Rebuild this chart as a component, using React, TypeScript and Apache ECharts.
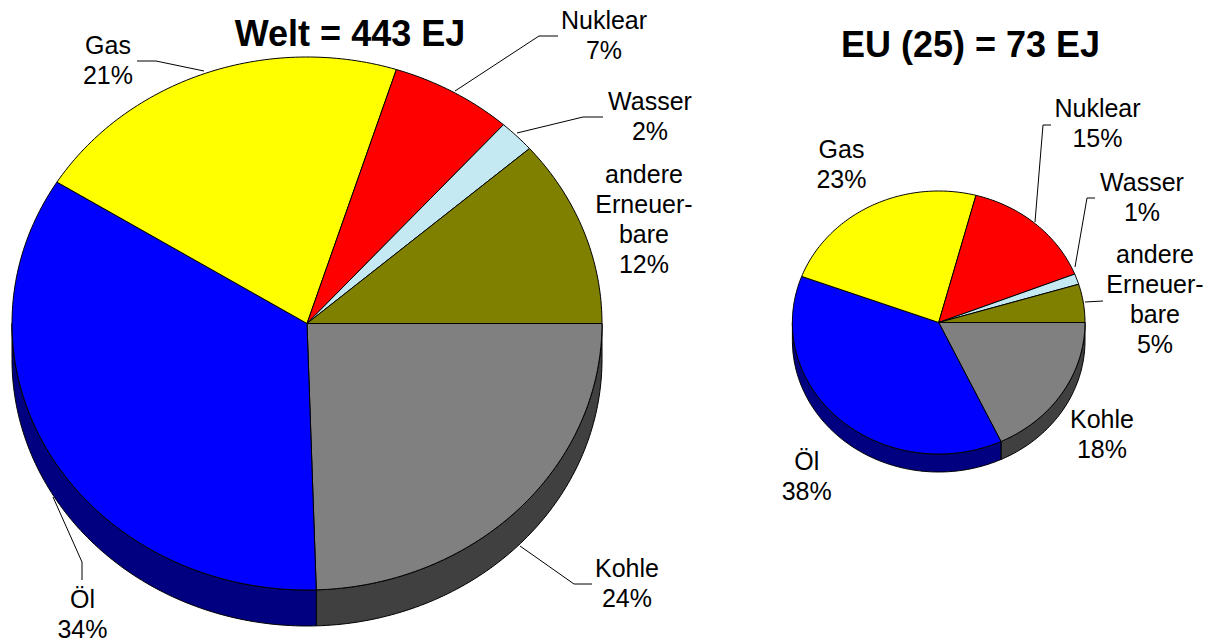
import React, { useEffect, useRef } from "react";
import * as echarts from "echarts";

// ---- data ----
const categories = ["Kohle", "Öl", "Gas", "Nuklear", "Wasser", "andere Erneuerbare"];
const labelNames = ["Kohle", "Öl", "Gas", "Nuklear", "Wasser", "andere\nErneuer-\nbare"];
// slice shares (%)
const weltShares = [24.5, 34.4, 21.0, 6.7, 2.0, 11.4];
const euShares = [18.0, 37.7, 23.4, 14.9, 1.3, 4.7];
// percentages as printed on the labels
const weltPercentLabels = [24, 34, 21, 7, 2, 12];
const euPercentLabels = [18, 38, 23, 15, 1, 5];
const weltTotal = 443;
const euTotal = 73;
const weltTitle = `Welt = ${weltTotal} EJ`;
const euTitle = `EU (25) = ${euTotal} EJ`;

// ---- styles ----
const topColors = ["#808080", "#0000ff", "#ffff00", "#ff0000", "#c4e9f3", "#808000"];
const sideColors = ["#404040", "#000080", "#808000", "#800000", "#62a0b0", "#404000"];
const FONT = '"Liberation Sans", Arial, Helvetica, sans-serif';

// ---- layout ----
const weltGeo = { cx: 307, cy: 323.5, rx: 295, ry: 266.5, depth: 36 };
const euGeo = { cx: 938.7, cy: 322.5, rx: 146.3, ry: 131.5, depth: 18 };

type LabelLayout = { x: number; y: number; leader?: number[][] };
const weltLabels: LabelLayout[] = [
  { x: 627, y: 577, leader: [[592, 584], [574, 584], [520, 546]] },
  { x: 82.5, y: 608, leader: [[82, 580], [82, 562], [53, 497]] },
  { x: 108, y: 54, leader: [[137, 61], [156, 61], [204, 71]] },
  { x: 604, y: 29, leader: [[558, 36], [539, 36], [455, 91]] },
  { x: 650, y: 110, leader: [[603, 117], [583, 117], [517, 133]] },
  { x: 644, y: 183 },
];
const euLabels: LabelLayout[] = [
  { x: 1102, y: 428 },
  { x: 806.7, y: 470 },
  { x: 841.5, y: 158 },
  { x: 1097.5, y: 117, leader: [[1051, 125], [1043, 125], [1035, 222]] },
  { x: 1142, y: 191, leader: [[1095, 198], [1087, 198], [1075, 267]] },
  { x: 1155, y: 263, leader: [[1103, 301], [1085, 302]] },
];

function makeSeries(shares: number[], geo: typeof weltGeo) {
  const cum: number[] = [];
  let s = 0;
  shares.forEach((v) => {
    cum.push(s);
    s += v;
  });
  const total = s;
  return {
    type: "custom",
    coordinateSystem: "none",
    silent: true,
    data: shares.map((v, i) => ({ name: categories[i], value: [v, cum[i]] })),
    renderItem: (params: any, api: any) => {
      const v = api.value(0);
      const c = api.value(1);
      const i = params.dataIndex;
      const a0 = (c / total) * Math.PI * 2;
      const a1 = ((c + v) / total) * Math.PI * 2;
      const pt = (t: number, dy = 0) => [
        geo.cx + geo.rx * Math.cos(t),
        geo.cy + geo.ry * Math.sin(t) + dy,
      ];
      const arc = (t0: number, t1: number, dy = 0) => {
        const n = Math.max(2, Math.ceil(((t1 - t0) * 180) / Math.PI));
        const out: number[][] = [];
        for (let k = 0; k <= n; k++) out.push(pt(t0 + ((t1 - t0) * k) / n, dy));
        return out;
      };
      const children: any[] = [];
      const s0 = Math.max(a0, 0);
      const s1 = Math.min(a1, Math.PI);
      if (s1 > s0) {
        const upper = arc(s0, s1);
        const lower = arc(s0, s1, geo.depth).reverse();
        children.push({
          type: "polygon",
          shape: { points: upper.concat(lower) },
          style: { fill: sideColors[i], stroke: "#000", lineWidth: 1 },
        });
      }
      children.push({
        type: "polygon",
        shape: { points: [[geo.cx, geo.cy]].concat(arc(a0, a1)) },
        style: { fill: topColors[i], stroke: "#000", lineWidth: 1 },
      });
      return { type: "group", children };
    },
  };
}

function labelGraphics(percents: number[], layout: LabelLayout[]) {
  const out: any[] = [];
  percents.forEach((p, i) => {
    const l = layout[i];
    out.push({
      type: "text",
      silent: true,
      style: {
        text: `${labelNames[i]}\n${p}%`,
        x: l.x,
        y: l.y - 24,
        align: "center",
        verticalAlign: "top",
        fontSize: 25,
        lineHeight: 30,
        fontFamily: FONT,
        fill: "#000",
      },
    });
    if (l.leader) {
      out.push({
        type: "polyline",
        silent: true,
        shape: { points: l.leader },
        style: { stroke: "#000", lineWidth: 1, fill: "none" },
      });
    }
  });
  return out;
}

export default function App() {
  const ref = useRef<HTMLDivElement>(null);
  useEffect(() => {
    if (!ref.current) return;
    const chart = echarts.init(ref.current, undefined, { renderer: "svg" });
    chart.setOption({
      animation: false,
      backgroundColor: "#ffffff",
      series: [makeSeries(weltShares, weltGeo), makeSeries(euShares, euGeo)],
      graphic: [
        {
          type: "text",
          silent: true,
          style: {
            text: weltTitle,
            x: 350,
            y: 33,
            align: "center",
            verticalAlign: "middle",
            fontSize: 36,
            fontWeight: "bold",
            fontFamily: FONT,
            fill: "#000",
          },
        },
        {
          type: "text",
          silent: true,
          style: {
            text: euTitle,
            x: 970.5,
            y: 44.6,
            align: "center",
            verticalAlign: "middle",
            fontSize: 36,
            fontWeight: "bold",
            fontFamily: FONT,
            fill: "#000",
          },
        },
        ...labelGraphics(weltPercentLabels, weltLabels),
        ...labelGraphics(euPercentLabels, euLabels),
      ],
    });
    return () => chart.dispose();
  }, []);
  return (
    <div
      ref={ref}
      style={{ position: "fixed", left: 0, top: 0, width: 1213, height: 643 }}
    />
  );
}
